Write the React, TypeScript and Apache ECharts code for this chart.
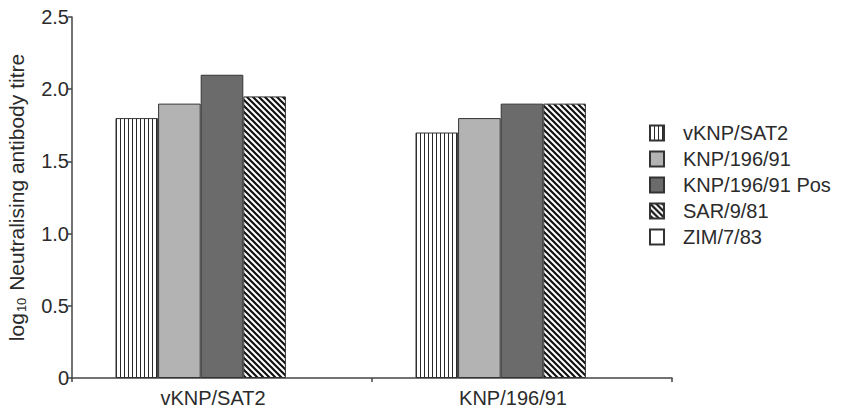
import React, { useEffect, useRef } from "react";
import * as echarts from "echarts";

const categories = ["vKNP/SAT2", "KNP/196/91"];
const seriesNames = ["vKNP/SAT2", "KNP/196/91", "KNP/196/91 Pos", "SAR/9/81", "ZIM/7/83"];
const vKNPValues = [1.8, 1.7];
const knpValues = [1.9, 1.8];
const knpPosValues = [2.1, 1.9];
const sarValues = [1.95, 1.9];
const zimValues: (number | null)[] = [null, null];
const yTicks = [0, 0.5, 1.0, 1.5, 2.0, 2.5];

function makeVertical(): HTMLCanvasElement {
  const c = document.createElement("canvas");
  c.width = 4;
  c.height = 8;
  const ctx = c.getContext("2d")!;
  ctx.fillStyle = "#ffffff";
  ctx.fillRect(0, 0, 4, 8);
  ctx.fillStyle = "#2a2a2a";
  ctx.fillRect(0, 0, 1, 8);
  return c;
}

function makeDiagonal(): HTMLCanvasElement {
  const s = 6;
  const c = document.createElement("canvas");
  c.width = s;
  c.height = s;
  const ctx = c.getContext("2d")!;
  ctx.fillStyle = "#ffffff";
  ctx.fillRect(0, 0, s, s);
  ctx.strokeStyle = "#111111";
  ctx.lineWidth = 2.2;
  ctx.beginPath();
  ctx.moveTo(-s, -s);
  ctx.lineTo(2 * s, 2 * s);
  ctx.moveTo(-s, 0);
  ctx.lineTo(s, 2 * s);
  ctx.moveTo(0, -s);
  ctx.lineTo(2 * s, s);
  ctx.stroke();
  return c;
}

export default function App() {
  const ref = useRef<HTMLDivElement>(null);
  useEffect(() => {
    document.body.style.margin = "0";
    if (!ref.current) return;
    const chart = echarts.init(ref.current, null, { renderer: "svg" });
    const font = "Liberation Sans";
    const textColor = "#2b2b2b";
    const border = { borderColor: "#333333", borderWidth: 1 };
    const fills: any[] = [
      { image: makeVertical(), repeat: "repeat" },
      "#b3b3b3",
      "#6b6b6b",
      { image: makeDiagonal(), repeat: "repeat" },
      "#ffffff",
    ];
    const values = [vKNPValues, knpValues, knpPosValues, sarValues, zimValues];
    chart.setOption({
      animation: false,
      textStyle: { fontFamily: font, color: textColor },
      grid: { left: 72, top: 17, width: 600, height: 361, containLabel: false, outerBoundsMode: "none" },
      legend: {
        orient: "vertical",
        left: 644,
        top: 118,
        icon: "rect",
        itemWidth: 14,
        itemHeight: 15,
        itemGap: 6,
        data: seriesNames,
        textStyle: { fontFamily: font, fontSize: 20, color: textColor, padding: [0, 0, 0, 14] },
      },
      xAxis: {
        type: "category",
        data: categories,
        axisLine: { show: true, lineStyle: { color: "#444", width: 1.5 } },
        axisTick: { show: true, length: 4, lineStyle: { color: "#444", width: 1.5 } },
        axisLabel: { fontFamily: font, fontSize: 20, color: textColor, margin: 10, padding: [0, 18, 0, 0] },
      },
      yAxis: {
        type: "value",
        min: 0,
        max: 2.5,
        interval: 0.5,
        splitLine: { show: false },
        axisLine: { show: true, lineStyle: { color: "#444", width: 1.5 } },
        axisTick: { show: true, length: 4, inside: false, lineStyle: { color: "#444", width: 1.5 } },
        axisLabel: {
          fontFamily: font,
          fontSize: 20,
          color: textColor,
          margin: 3,
          formatter: (v: number) => {
            const t = yTicks.find((x) => Math.abs(x - v) < 1e-9);
            const val = t === undefined ? v : t;
            return val === 0 ? "0" : val.toFixed(1);
          },
        },
        name: "{a|log}{b|10}{a| Neutralising antibody titre}",
        nameLocation: "middle",
        nameRotate: 90,
        nameGap: 44,
        nameTextStyle: {
          rich: {
            a: { fontFamily: font, fontSize: 21, color: textColor },
            b: { fontFamily: font, fontSize: 13, color: textColor, padding: [10, 1, 0, 1] },
          },
        },
      },
      series: seriesNames.map((name, i) => ({
        name,
        type: "bar",
        data: values[i],
        barGap: "0%",
        barCategoryGap: "29%",
        itemStyle: { color: fills[i], ...border },
      })),
    });
    return () => chart.dispose();
  }, []);
  return <div ref={ref} style={{ width: 843, height: 412 }} />;
}
